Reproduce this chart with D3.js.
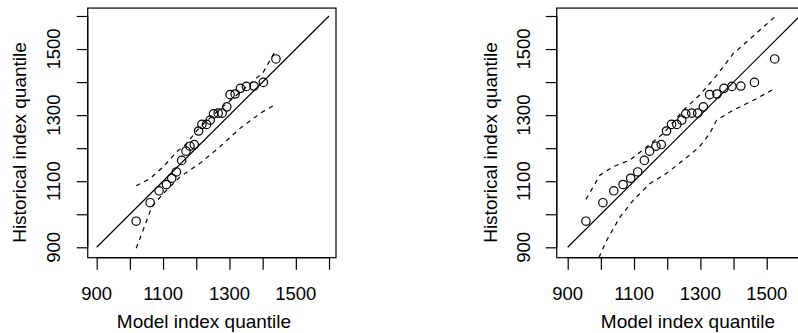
<!DOCTYPE html>
<html lang="en">
<head>
    <meta charset="UTF-8">
    <title>QQ plots</title>
    <script src="https://cdnjs.cloudflare.com/ajax/libs/d3/7.8.5/d3.min.js"></script>
    <style>
        body { margin: 0; background: #fff; }
        text { font-family: "Liberation Sans", Arial, Helvetica, sans-serif; font-size: 18.5px; fill: #000; }
        text.lab { font-size: 19px; }
    </style>
</head>
<body>
    <script>
        const width = 798;
        const height = 333;

        // sorted historical index values (same in both panels)
        const histQ = [979, 1035, 1071, 1090, 1109, 1128, 1163, 1191, 1206, 1211, 1252, 1272, 1272,
                       1285, 1304, 1306, 1306, 1325, 1362, 1364, 1381, 1387, 1388, 1399, 1470];
        // model quantiles, left and right panel
        const modelA = [1019, 1061, 1088, 1110, 1126, 1140, 1156, 1169, 1181, 1194, 1207, 1217, 1231,
                        1242, 1252, 1266, 1278, 1292, 1302, 1317, 1333, 1351, 1374, 1402, 1440];
        const modelB = [955, 1006, 1039, 1067, 1090, 1111, 1131, 1147, 1166, 1182, 1198, 1213, 1229,
                        1244, 1256, 1274, 1292, 1309, 1328, 1350, 1371, 1395, 1422, 1463, 1524];

        // confidence envelopes
        const upperAx = [1019, 1040, 1061, 1101, 1141, 1169, 1211, 1251, 1291, 1351, 1402, 1440];
        const upperAy = [1086, 1097, 1108, 1144, 1189, 1212, 1264, 1300, 1335, 1385, 1430, 1498];
        const lowerAx = [1019, 1040, 1066, 1101, 1151, 1211, 1271, 1332, 1392, 1440];
        const lowerAy = [897, 952, 1023, 1063, 1113, 1154, 1204, 1260, 1305, 1333];
        const upperBx = [955, 997, 1037, 1088, 1138, 1188, 1249, 1297, 1349, 1399, 1450, 1524];
        const upperBy = [1045, 1118, 1144, 1164, 1204, 1244, 1315, 1360, 1420, 1486, 1531, 1597];
        const lowerBx = [994, 1018, 1058, 1098, 1148, 1198, 1249, 1297, 1328, 1349, 1399, 1460, 1524];
        const lowerBy = [869, 922, 992, 1043, 1093, 1124, 1164, 1204, 1244, 1285, 1315, 1345, 1380];

        const ticks = [900, 1000, 1100, 1200, 1300, 1400, 1500, 1600];
        const tickLabels = [900, 1100, 1300, 1500];
        const refLine = [900, 1600];

        const svg = d3.select("body").append("svg")
            .attr("width", width)
            .attr("height", height);

        const panels = [
            { id: "a", x0: 96.7, xs: 0.3319, xlim: [873, 1621], pts: modelA,
              up: [upperAx, upperAy], lo: [lowerAx, lowerAy], ylabX: 26, ytxX: 60, xlabX: 204 },
            { id: "b", x0: 567.7, xs: 0.3317, xlim: [867, 1760], pts: modelB,
              up: [upperBx, upperBy], lo: [lowerBx, lowerBy], ylabX: 497, ytxX: 530, xlabX: 688 }
        ];

        const y = d3.scaleLinear().domain([900, 1600]).range([247.3, 16]);
        const ylim = [868.5, 1624];
        const sw = 1.2;

        panels.forEach(p => {
            const x = d3.scaleLinear().domain([900, 1600]).range([p.x0, p.x0 + 700 * p.xs]);
            const g = svg.append("g");
            const bx0 = x(p.xlim[0]), bx1 = x(p.xlim[1]);
            const by0 = y(ylim[1]), by1 = y(ylim[0]);

            g.append("clipPath").attr("id", "clip-" + p.id)
                .append("rect")
                .attr("x", bx0).attr("y", by0)
                .attr("width", bx1 - bx0).attr("height", by1 - by0);

            const plot = g.append("g").attr("clip-path", `url(#clip-${p.id})`);

            // 1:1 line
            plot.append("line")
                .attr("x1", x(refLine[0])).attr("y1", y(refLine[0]))
                .attr("x2", x(refLine[1])).attr("y2", y(refLine[1]))
                .attr("stroke", "#000").attr("stroke-width", sw);

            const line = d3.line().x(d => x(d[0])).y(d => y(d[1]));
            [p.up, p.lo].forEach(env => {
                plot.append("path")
                    .attr("d", line(d3.zip(env[0], env[1])))
                    .attr("fill", "none")
                    .attr("stroke", "#000")
                    .attr("stroke-width", sw)
                    .attr("stroke-dasharray", "4.5,4.5");
            });

            plot.selectAll("circle")
                .data(d3.zip(p.pts, histQ))
                .enter().append("circle")
                .attr("cx", d => x(d[0]))
                .attr("cy", d => y(d[1]))
                .attr("r", 4.2)
                .attr("fill", "none")
                .attr("stroke", "#000")
                .attr("stroke-width", sw);

            // frame
            g.append("rect")
                .attr("x", bx0).attr("y", by0)
                .attr("width", bx1 - bx0).attr("height", by1 - by0)
                .attr("fill", "none").attr("stroke", "#000").attr("stroke-width", sw);

            // x axis
            const xa = g.append("g")
                .attr("transform", `translate(0,${by1})`)
                .call(d3.axisBottom(x).tickValues(ticks).tickSize(12).tickFormat(""));
            xa.select(".domain").remove();
            xa.append("line")
                .attr("x1", x(ticks[0])).attr("x2", x(ticks[ticks.length - 1]))
                .attr("stroke", "#000").attr("stroke-width", sw);
            g.selectAll(".xtl")
                .data(tickLabels)
                .enter().append("text")
                .attr("x", d => x(d))
                .attr("y", 300)
                .attr("text-anchor", "middle")
                .text(d => d);

            // y axis
            const ya = g.append("g")
                .attr("transform", `translate(${bx0},0)`)
                .call(d3.axisLeft(y).tickValues(ticks).tickSize(11).tickFormat(""));
            ya.select(".domain").remove();
            ya.append("line")
                .attr("y1", y(ticks[0])).attr("y2", y(ticks[ticks.length - 1]))
                .attr("stroke", "#000").attr("stroke-width", sw);
            g.selectAll(".ytl")
                .data(tickLabels)
                .enter().append("text")
                .attr("transform", d => `translate(${p.ytxX},${y(d)}) rotate(-90)`)
                .attr("text-anchor", "middle")
                .text(d => d);

            g.selectAll(".tick line").attr("stroke", "#000").attr("stroke-width", sw);

            g.append("text")
                .attr("class", "lab")
                .attr("x", p.xlabX).attr("y", 328)
                .attr("text-anchor", "middle")
                .text("Model index quantile");
            g.append("text")
                .attr("class", "lab")
                .attr("transform", `translate(${p.ylabX},142.5) rotate(-90)`)
                .attr("text-anchor", "middle")
                .text("Historical index quantile");
        });
    </script>
</body>
</html>
